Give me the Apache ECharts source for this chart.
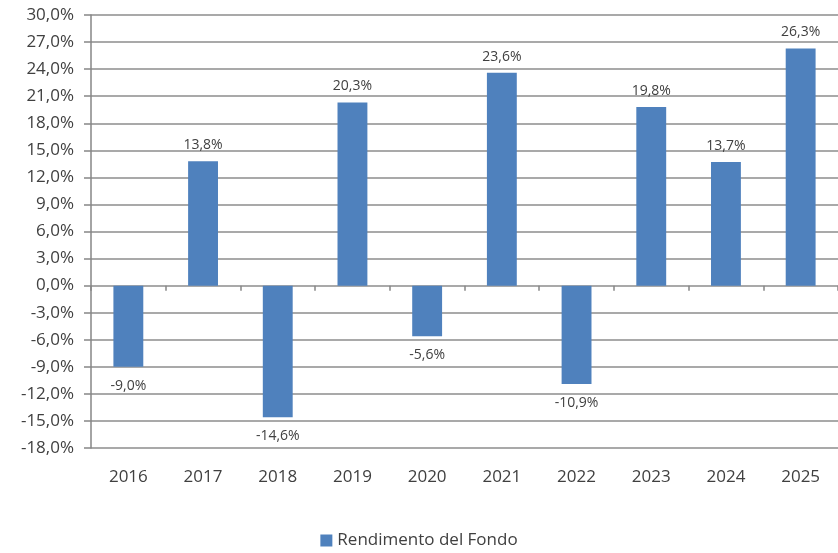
<!DOCTYPE html>
<html><head><meta charset="utf-8">
<script src="https://cdn.jsdelivr.net/npm/echarts@6/dist/echarts.min.js"></script>
<style>html,body{margin:0;padding:0;background:#fff}#c{width:838px;height:553px}</style>
</head><body><div id="c"></div>
<script>
const years = ['2016','2017','2018','2019','2020','2021','2022','2023','2024','2025'];
const returns = [-9.0, 13.8, -14.6, 20.3, -5.6, 23.6, -10.9, 19.8, 13.7, 26.3];
const seriesName = 'Rendimento del Fondo';
const yMin = -18, yMax = 30, yStep = 3;

const fmt = v => v.toFixed(1).replace('.', ',') + '%';
const FONT = 'Open Sans';
const data = returns.map(v => ({
  value: v,
  label: { position: v < 0 ? 'bottom' : 'top', distance: v < 0 ? 12 : 9 }
}));

const chart = echarts.init(document.getElementById('c'));
chart.setOption({
  animation: false,
  textStyle: { fontFamily: FONT },
  grid: { left: 91, right: 0, top: 15, bottom: 105, containLabel: false },
  legend: {
    bottom: -1, left: 'center', itemWidth: 12, itemHeight: 12, itemGap: 6,
    icon: 'rect',
    textStyle: { fontFamily: FONT, fontSize: 17, color: '#404040' },
    data: [seriesName]
  },
  xAxis: [{
    type: 'category', data: years,
    axisLine: { show: false, onZero: false },
    axisTick: { show: false },
    axisLabel: { fontFamily: FONT, fontSize: 17, color: '#404040', margin: 21 }
  }, {
    type: 'category', data: years, position: 'bottom',
    axisLine: { show: false, onZero: true },
    axisTick: { show: true, length: 5, lineStyle: { color: '#868686', width: 1.5 } },
    axisLabel: { show: false }
  }],
  yAxis: {
    type: 'value', min: yMin, max: yMax, interval: yStep,
    axisLine: { show: true, lineStyle: { color: '#868686', width: 1.5 } },
    axisTick: { show: true, length: 7, lineStyle: { color: '#868686', width: 1.5 } },
    splitLine: { show: true, lineStyle: { color: '#8c8c8c', width: 1.5 } },
    axisLabel: { fontFamily: FONT, fontSize: 17, color: '#404040', margin: 17, formatter: v => fmt(v) }
  },
  series: [{
    name: seriesName, type: 'bar', data: data, barWidth: '40%',
    itemStyle: { color: '#4f81bd' },
    label: { show: true, fontFamily: FONT, fontSize: 14, color: '#404040', formatter: p => fmt(p.value) }
  }]
});
</script></body></html>
